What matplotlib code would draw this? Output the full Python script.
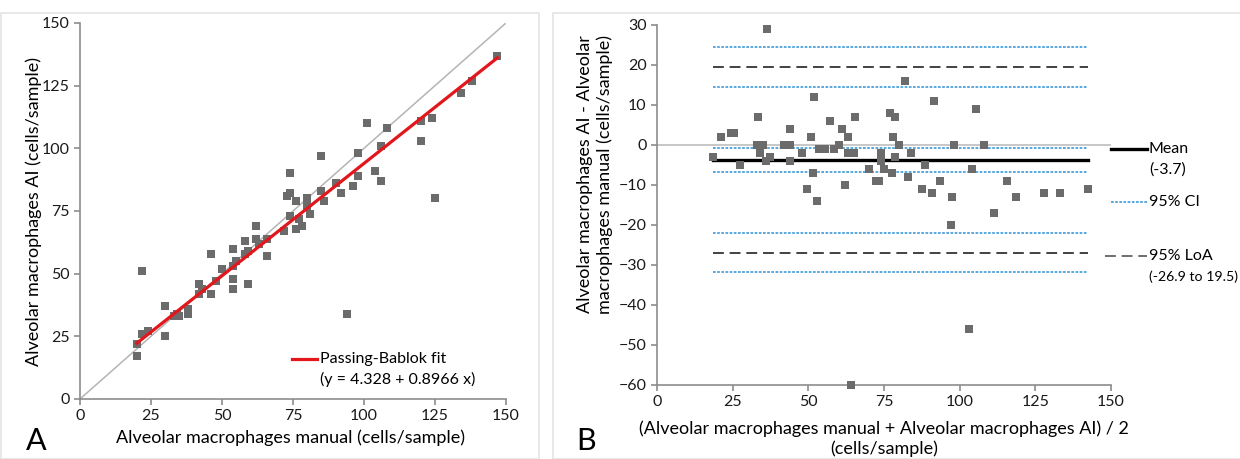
import numpy as np
import matplotlib
matplotlib.use('Agg')
import matplotlib.pyplot as plt
from matplotlib.lines import Line2D
from matplotlib.patches import Rectangle

plt.rcParams['font.family'] = ['Lato', 'DejaVu Sans']

# panel A: manual vs AI counts
manual = [20, 20, 22, 22, 24, 30, 30, 33, 34, 35, 38, 38, 42, 42, 43, 46, 46, 48, 50,
          54, 54, 54, 54, 55, 58, 58, 59, 59, 62, 62, 63, 66, 66, 72, 74, 76, 76, 77,
          78, 80, 81, 73, 74, 74, 80, 85, 85, 86, 90, 92, 94, 96, 98, 98, 101, 104,
          106, 106, 108, 120, 120, 124, 125, 134, 138, 147]
ai = [22, 17, 51, 26, 27, 37, 25, 33, 34, 33, 34, 36, 46, 42, 44, 58, 42, 47, 52,
      60, 53, 48, 44, 55, 63, 58, 59, 46, 69, 64, 62, 64, 57, 67, 73, 79, 68, 72,
      69, 77, 74, 81, 82, 90, 80, 97, 83, 79, 86, 82, 34, 85, 89, 98, 110, 91,
      87, 101, 108, 111, 103, 112, 80, 122, 127, 137]
pb_intercept = 4.328
pb_slope = 0.8966

# panel B: Bland-Altman
avg = [18.5, 21, 24.5, 25.5, 27.5, 33, 35, 33.5, 34, 36, 36.5, 37.5, 42, 44, 44, 44,
       48, 49.5, 51, 51.5, 52, 53, 53.5, 55.5, 57, 58.5, 60, 61, 62, 63, 63, 65,
       65.5, 70, 72.5, 73.5, 74, 74, 75, 77, 78.5, 77.5, 78, 78.5, 80, 82, 83, 84,
       87.5, 88.5, 91, 91.5, 93.5, 97.5, 98, 104, 105.5, 108, 115.5, 118.5, 128,
       133, 142.5, 111.5, 97, 103, 64]
diff = [-3, 2, 3, 3, -5, 0, 0, 7, -2, -4, 29, -3, 0, 0, 4, -4,
        -2, -11, 2, -7, 12, -14, -1, -1, 6, -1, 0, 4, -10, 2, -2, -2,
        7, -6, -9, -9, -2, -4, -6, 8, 7, -7, 2, -3, 0, 16, -8, -2,
        -11, -5, -12, 11, -9, -13, 0, -6, 9, 0, -9, -13, -12,
        -12, -11, -17, -20, -46, -60]
mean_diff = -3.7
loa = [-26.9, 19.5]
ci_lines = [24.4, 14.6, -0.8, -6.7, -22.0, -31.8]

grey = '#6b6b6b'
spine_c = '#8c8c8c'
blue = '#3d9ad8'
tick_fs = 11.5
lab_fs = 13
leg_fs = 11.5

fig = plt.figure(figsize=(12.4, 4.59), dpi=100)

# panel frames
fig.add_artist(Rectangle((1 / 1240, 0), 538 / 1240, 1 - 13 / 459, transform=fig.transFigure,
                         fill=False, edgecolor='#e4e4e4', lw=1.2))
fig.add_artist(Rectangle((553 / 1240, 0), 700 / 1240, 1 - 13 / 459, transform=fig.transFigure,
                         fill=False, edgecolor='#e4e4e4', lw=1.2))


def style_axes(ax):
    for s in ['top', 'right']:
        ax.spines[s].set_visible(False)
    for s in ['left', 'bottom']:
        ax.spines[s].set_color(spine_c)
        ax.spines[s].set_linewidth(1.2)
    ax.tick_params(colors=spine_c, length=4, width=1.2, labelsize=tick_fs, labelcolor='#1a1a1a')


# ---- A ----
axA = fig.add_axes([80 / 1240, 1 - 399 / 459, 426 / 1240, 376 / 459])
style_axes(axA)
axA.plot([0, 150], [0, 150], color='#b4b4b4', lw=1.1, zorder=1)
xm = np.array(manual)
xfit = np.array([xm.min(), xm.max()])
axA.plot(xfit, pb_intercept + pb_slope * xfit, color='#e3161b', lw=2.3, zorder=3)
axA.scatter(manual, ai, marker='s', s=30, color=grey, zorder=2, linewidths=0)
axA.set_xlim(0, 150)
axA.set_ylim(0, 150)
axA.set_xticks(np.arange(0, 151, 25))
axA.set_yticks(np.arange(0, 151, 25))

fig.add_artist(Line2D([291.7 / 1240, 317.3 / 1240], [1 - 359.3 / 459] * 2,
                      transform=fig.transFigure, color='#e3161b', lw=2.3))
fig.text(320.5 / 1240, 1 - 359.3 / 459, 'Passing-Bablok fit', fontsize=leg_fs, va='center', ha='left')
fig.text(320.5 / 1240, 1 - 379.3 / 459, '(y = 4.328 + 0.8966 x)', fontsize=leg_fs, va='center', ha='left')

fig.text(34 / 1240, 1 - 211 / 459, 'Alveolar macrophages AI (cells/sample)', rotation=90,
         fontsize=lab_fs, ha='center', va='center')
fig.text(291 / 1240, 1 - 438 / 459, 'Alveolar macrophages manual (cells/sample)',
         fontsize=lab_fs, ha='center', va='center')
fig.text(36 / 1240, 1 - 441 / 459, 'A', fontsize=22, ha='center', va='center')

# ---- B ----
axB = fig.add_axes([657 / 1240, 1 - 385 / 459, 454 / 1240, 360 / 459])
style_axes(axB)
axB.axhline(0, color='#bdbdbd', lw=1.2, zorder=1)
xa = np.array(avg)
x0, x1 = xa.min(), xa.max()
for c in ci_lines:
    axB.plot([x0, x1], [c, c], color=blue, lw=1.2, linestyle=(0, (1.6, 0.9)), zorder=2)
for l in loa:
    axB.plot([x0, x1], [l, l], color='#222222', lw=1.2, linestyle=(0, (6.5, 3.5)), zorder=2)
axB.plot([x0, x1], [mean_diff, mean_diff], color='black', lw=2.4, zorder=2)
axB.scatter(avg, diff, marker='s', s=30, color=grey, zorder=3, linewidths=0, clip_on=False)
axB.set_xlim(0, 150)
axB.set_ylim(-60, 30)
axB.set_xticks(np.arange(0, 151, 25))
axB.set_yticks(np.arange(-60, 31, 10))

lx0, lx1 = 1110.7 / 1240, 1146.7 / 1240
fig.add_artist(Line2D([lx0, lx1], [1 - 149.3 / 459] * 2, transform=fig.transFigure,
                      color='black', lw=2.4))
fig.add_artist(Line2D([lx0, lx1], [1 - 202 / 459] * 2, transform=fig.transFigure,
                      color=blue, lw=1.2, linestyle=(0, (1.6, 0.9))))
fig.add_artist(Line2D([1105 / 1240, lx1], [1 - 256.3 / 459] * 2, transform=fig.transFigure,
                      color='#555555', lw=1.2, linestyle=(0, (6.5, 3.5))))
tx = 1149 / 1240
fig.text(tx, 1 - 149.3 / 459, 'Mean', fontsize=leg_fs, va='center', ha='left')
fig.text(tx, 1 - 170 / 459, '(-3.7)', fontsize=leg_fs, va='center', ha='left')
fig.text(tx, 1 - 202 / 459, '95% CI', fontsize=leg_fs, va='center', ha='left')
fig.text(tx, 1 - 256.3 / 459, '95% LoA', fontsize=leg_fs, va='center', ha='left')
fig.text(tx, 1 - 276.7 / 459, '(-26.9 to 19.5)', fontsize=10.2, va='center', ha='left')

fig.text(595 / 1240, 1 - 174 / 459, 'Alveolar macrophages AI - Alveolar\nmacrophages manual (cells/sample)',
         rotation=90, fontsize=lab_fs, ha='center', va='center', linespacing=1.25)
fig.text(884 / 1240, 1 - 439 / 459,
         '(Alveolar macrophages manual + Alveolar macrophages AI) / 2\n(cells/sample)',
         fontsize=lab_fs, ha='center', va='center', linespacing=1.25)
fig.text(586 / 1240, 1 - 441 / 459, 'B', fontsize=22, ha='center', va='center')

fig.savefig('out.png', dpi=100)
